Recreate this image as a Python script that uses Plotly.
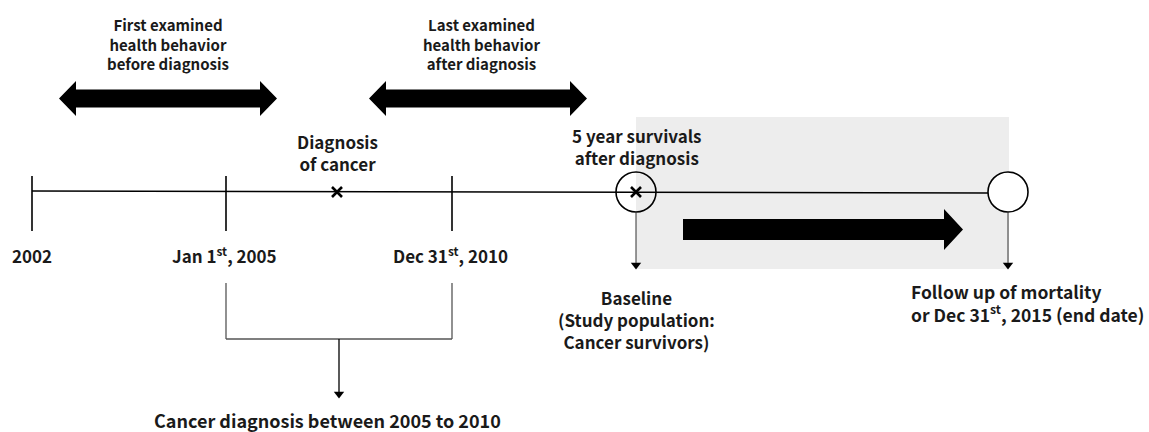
import plotly.graph_objects as go

# ---- diagram data (canvas units: x 0..1149, y 0..432 top-down) ----
timeline_y = 192
timeline_start = 32
timeline_end = 1008

tick_labels = ["2002", "Jan 1<sup>st</sup>, 2005", "Dec 31<sup>st</sup>, 2010"]
tick_x = [32, 226, 452]
tick_label_x = [32, 224, 450]

diag_x = 337
baseline_x = 636
end_x = 1008

double_arrows_x0 = [59, 369]
double_arrows_x1 = [277, 587]
double_arrows_text = ["First examined<br>health behavior<br>before diagnosis",
                      "Last examined<br>health behavior<br>after diagnosis"]
double_arrows_text_x = [168, 481]

followup_arrow_x = [683, 963]

font = "Noto Sans CJK KR, Malgun Gothic, sans-serif"

fig = go.Figure()
shapes = []
annotations = []

# gray follow-up region
shapes.append(dict(type="rect", x0=baseline_x, x1=end_x + 1, y0=117, y1=269,
                   fillcolor="#EDEDED", line=dict(width=0), layer="below"))

# main timeline
shapes.append(dict(type="line", x0=timeline_start, x1=end_x - 20, y0=timeline_y - 1, y1=timeline_y + 1,
                   line=dict(color="black", width=1.5)))

# ticks and labels
for x, lx, t in zip(tick_x, tick_label_x, tick_labels):
    shapes.append(dict(type="line", x0=x, x1=x, y0=176, y1=231, line=dict(color="black", width=1.6)))
    annotations.append(dict(x=lx, y=255, text=f"<b>{t}</b>", showarrow=False,
                            xanchor="center", yanchor="middle", font=dict(size=17)))

# double arrows
def double_arrow_path(x0, x1, yc, head=17, shaft=9, hh=17.5):
    return (f"M {x0},{yc} L {x0+head},{yc-hh} L {x0+head},{yc-shaft} L {x1-head},{yc-shaft} "
            f"L {x1-head},{yc-hh} L {x1},{yc} L {x1-head},{yc+hh} L {x1-head},{yc+shaft} "
            f"L {x0+head},{yc+shaft} L {x0+head},{yc+hh} Z")

for x0, x1, t, tx in zip(double_arrows_x0, double_arrows_x1, double_arrows_text, double_arrows_text_x):
    shapes.append(dict(type="path", path=double_arrow_path(x0, x1, 98.5), fillcolor="black",
                       line=dict(width=0)))
    annotations.append(dict(x=tx, y=44, text=f"<b>{t}</b>", showarrow=False,
                            xanchor="center", yanchor="middle", font=dict(size=15)))

# follow-up arrow
fx0, fx1 = followup_arrow_x
yc = 229.5
shapes.append(dict(type="path",
                   path=(f"M {fx0},{yc-10.5} L {fx1-19},{yc-10.5} L {fx1-19},{yc-20.5} L {fx1},{yc} "
                         f"L {fx1-19},{yc+20.5} L {fx1-19},{yc+10.5} L {fx0},{yc+10.5} Z"),
                   fillcolor="black", line=dict(width=0)))

# circles
shapes.append(dict(type="circle", x0=baseline_x - 20, x1=baseline_x + 20, y0=timeline_y - 20, y1=timeline_y + 20,
                   line=dict(color="black", width=1.6)))
shapes.append(dict(type="circle", x0=end_x - 20, x1=end_x + 20, y0=timeline_y - 20, y1=timeline_y + 20,
                   fillcolor="white", line=dict(color="black", width=1.6)))

# diagnosis marks
fig.add_trace(go.Scatter(x=[diag_x, baseline_x], y=[timeline_y, timeline_y], mode="markers",
                         marker=dict(symbol="x-thin", size=10, line=dict(color="black", width=2.6)),
                         hoverinfo="skip", showlegend=False))

# down arrows from circles
for x in [baseline_x, end_x]:
    shapes.append(dict(type="line", x0=x, x1=x, y0=timeline_y + 20, y1=263,
                       line=dict(color="#333333", width=1)))
fig.add_trace(go.Scatter(x=[baseline_x, end_x, 339], y=[265, 265, 394], mode="markers",
                         marker=dict(symbol="triangle-down", size=9, color="black"),
                         hoverinfo="skip", showlegend=False))

# bracket
for x in tick_x[1:]:
    shapes.append(dict(type="line", x0=x, x1=x, y0=283, y1=339, line=dict(color="#555555", width=1.3)))
shapes.append(dict(type="line", x0=tick_x[1], x1=tick_x[2], y0=339, y1=339, line=dict(color="#555555", width=1.3)))
shapes.append(dict(type="line", x0=339, x1=339, y0=339, y1=392, line=dict(color="black", width=1.3)))

# text labels
annotations += [
    dict(x=diag_x, y=152.5, text="<b>Diagnosis<br>of cancer</b>", font=dict(size=17)),
    dict(x=baseline_x + 1, y=146, text="<b>5 year survivals<br>after diagnosis</b>", font=dict(size=17)),
    dict(x=baseline_x, y=319, text="<b>Baseline<br>(Study population:<br>Cancer survivors)</b>", font=dict(size=17)),
    dict(x=909, y=303, text="<b>Follow up of mortality<br>or Dec 31<sup>st</sup>, 2015 (end date)</b>",
         font=dict(size=17.5), xanchor="left", align="left"),
    dict(x=327, y=420, text="<b>Cancer diagnosis between 2005 to 2010</b>", font=dict(size=18)),
]
for a in annotations:
    a.setdefault("showarrow", False)
    a.setdefault("xanchor", "center")
    a.setdefault("yanchor", "middle")

fig.update_layout(
    width=1149, height=432,
    margin=dict(l=0, r=0, t=0, b=0),
    paper_bgcolor="white", plot_bgcolor="white",
    font=dict(family=font, color="#1a1a1a", size=17),
    shapes=shapes, annotations=annotations,
    xaxis=dict(range=[0, 1149], visible=False, fixedrange=True),
    yaxis=dict(range=[432, 0], visible=False, fixedrange=True),
    showlegend=False,
)

fig.write_html("out.html", config={"displayModeBar": False, "staticPlot": True},
               post_script="document.body.style.margin='0';document.body.style.overflow='hidden';")
